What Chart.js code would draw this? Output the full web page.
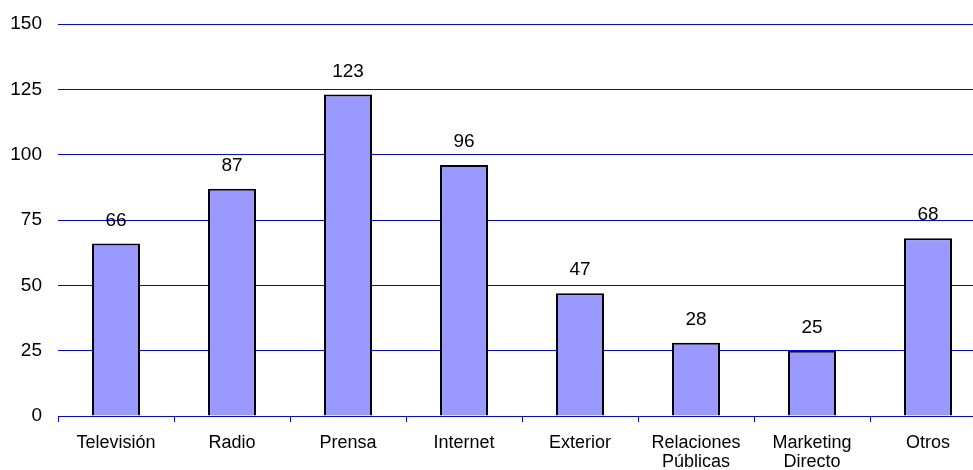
<!DOCTYPE html>
<html>
<head>
<meta charset="utf-8">
<script src="https://cdn.jsdelivr.net/npm/chart.js@4/dist/chart.umd.min.js"></script>
<style>
  html, body { margin: 0; padding: 0; background: #fff; overflow: hidden; }
  #wrap { width: 973px; height: 470px; overflow: hidden; }
</style>
</head>
<body>
<div id="wrap">
  <canvas id="medienChart" width="990" height="470"></canvas>
</div>
<script>
// Kategorien und Werte
const categories = ['Televisión', 'Radio', 'Prensa', 'Internet', 'Exterior', ['Relaciones', 'Públicas'], ['Marketing', 'Directo'], 'Otros'];
const values = [66, 87, 123, 96, 47, 28, 25, 68];
const yTicks = [0, 25, 50, 75, 100, 125, 150];

const FONT = "'Liberation Sans', Arial, sans-serif";

// Werte über den Balken anzeigen
const valueLabels = {
    id: 'valueLabels',
    afterDatasetsDraw(chart) {
        const ctx = chart.ctx;
        const meta = chart.getDatasetMeta(0);
        ctx.save();
        ctx.font = '19px ' + FONT;
        ctx.fillStyle = '#000';
        ctx.textAlign = 'center';
        ctx.textBaseline = 'alphabetic';
        meta.data.forEach((bar, i) => {
            ctx.fillText(String(values[i]), bar.x, bar.y - 18);
        });
        ctx.restore();
    }
};

new Chart(document.getElementById('medienChart'), {
    type: 'bar',
    data: {
        labels: categories,
        datasets: [{
            data: values,
            backgroundColor: '#9999FF',
            borderColor: '#000000',
            borderWidth: 2,
            categoryPercentage: 1,
            barPercentage: 0.414
        }]
    },
    options: {
        responsive: false,
        animation: false,
        layout: { padding: { top: 24, right: 4, left: 0, bottom: 0 } },
        plugins: {
            legend: { display: false },
            tooltip: { enabled: false }
        },
        scales: {
            x: {
                offset: true,
                grid: {
                    display: true,
                    offset: true,
                    drawOnChartArea: false,
                    drawTicks: true,
                    tickLength: 6,
                    color: '#0000FF',
                    lineWidth: 1
                },
                border: { display: true, color: '#0000FF', width: 1 },
                ticks: {
                    color: '#000',
                    font: { family: FONT, size: 18, lineHeight: 1.05 },
                    padding: 12,
                    maxRotation: 0,
                    autoSkip: false
                },
                afterFit(scale) { scale.height = 54; }
            },
            y: {
                min: 0,
                max: 150,
                afterBuildTicks(scale) { scale.ticks = yTicks.map(v => ({ value: v })); },
                grid: {
                    color: '#0000FF',
                    lineWidth: 1,
                    drawTicks: false
                },
                border: { display: false },
                ticks: {
                    color: '#000',
                    font: { family: FONT, size: 19, lineHeight: 1 },
                    padding: 16
                },
                afterFit(scale) {
                    scale.width = 58;
                    scale.paddingTop = 0;
                    scale.paddingBottom = 0;
                }
            }
        }
    },
    plugins: [valueLabels]
});
</script>
</body>
</html>
